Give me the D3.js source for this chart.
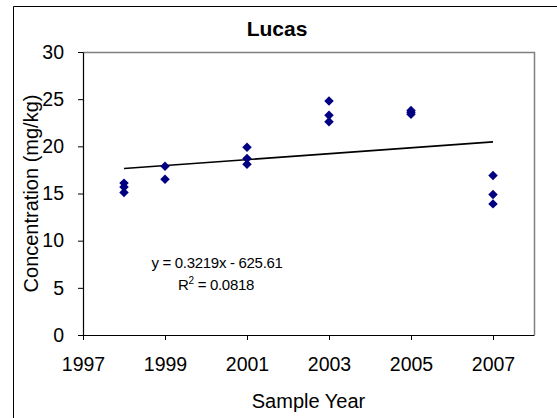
<!DOCTYPE html>
<html>
<head>
<meta charset="utf-8">
<script src="https://cdn.jsdelivr.net/npm/d3@7"></script>
<style>
html,body{margin:0;padding:0;background:#fff;overflow:hidden;}
svg{display:block;overflow:hidden;font-family:"Liberation Sans",Arial,sans-serif;}
</style>
</head>
<body>
<svg id="chart" width="557" height="418"></svg>
<script>
// ---- data ----
const years   = [1998, 1998, 1998, 1999, 1999, 2001, 2001, 2001, 2003, 2003, 2003, 2005, 2005, 2005, 2007, 2007, 2007];
const values  = [16.1, 15.7, 15.1, 17.9, 16.5, 19.9, 18.7, 18.1, 24.8, 23.3, 22.6, 23.8, 23.6, 23.4, 16.9, 14.9, 13.9];
const xTicks  = [1997, 1999, 2001, 2003, 2005, 2007];
const yTicks  = [0, 5, 10, 15, 20, 25, 30];
const trendYears  = [1998, 2007];
const trendValues = [17.65, 20.47];
const titleText = "Lucas";
const xTitle = "Sample Year";
const yTitle = "Concentration (mg/kg)";
const eqLine1 = "y = 0.3219x - 625.61";
const eqLine2 = ["R", "2", " = 0.0818"];

const svg = d3.select("#chart");
const L = 83, R = 534, T = 52, B = 335;

const x = d3.scaleLinear().domain([1997, 2008]).range([L, R]);
const y = d3.scaleLinear().domain([0, 30]).range([B, T]);

// outer chart border (only left and top edges fall inside the picture)
svg.append("path").attr("d", "M13.5,418V6.5H557")
  .attr("fill", "none").attr("stroke", "#000").attr("stroke-width", 1);

// plot area border (top/right gray)
svg.append("path")
  .attr("d", `M${L},${T+0.5}H${R+0.5}V${B}`)
  .attr("fill", "none").attr("stroke", "#808080").attr("stroke-width", 1.5);

// axes
const xAxis = d3.axisBottom(x).tickValues(xTicks).tickFormat(d3.format("d")).tickSize(5).tickSizeOuter(0).tickPadding(17);
const gx = svg.append("g").attr("transform", `translate(0,${B})`).call(xAxis);
gx.select(".domain").attr("stroke", "#000").attr("stroke-width", 1.2);
gx.selectAll(".tick line").attr("stroke", "#000");
gx.selectAll("text").attr("font-size", 19.5).attr("font-family", "Liberation Sans, Arial, sans-serif").attr("fill", "#000");

const yAxis = d3.axisLeft(y).tickValues(yTicks).tickSize(5).tickSizeOuter(0).tickPadding(14);
const gy = svg.append("g").attr("transform", `translate(${L},0)`).call(yAxis);
gy.select(".domain").attr("stroke", "#000").attr("stroke-width", 1.2);
gy.selectAll(".tick line").attr("stroke", "#000");
gy.selectAll("text").attr("font-size", 19.5).attr("font-family", "Liberation Sans, Arial, sans-serif").attr("fill", "#000");

// trend line
const line = d3.line().x(d => x(d[0])).y(d => y(d[1]));
svg.append("path")
  .datum(trendYears.map((yr, i) => [yr, trendValues[i]]))
  .attr("d", line)
  .attr("fill", "none").attr("stroke", "#000").attr("stroke-width", 1.6);

// diamond markers (square rotated 45deg)
const diamond = {
  draw(ctx, size) {
    const r = Math.sqrt(size / 2);
    ctx.moveTo(0, -r); ctx.lineTo(r, 0); ctx.lineTo(0, r); ctx.lineTo(-r, 0); ctx.closePath();
  }
};
svg.append("g").selectAll("path")
  .data(years.map((yr, i) => [yr, values[i]]))
  .join("path")
  .attr("d", d3.symbol().type(diamond).size(45))
  .attr("transform", d => `translate(${x(d[0])},${y(d[1])})`)
  .attr("fill", "#000080");

// title
svg.append("text").attr("x", 277).attr("y", 36).attr("text-anchor", "middle")
  .attr("font-size", 21).attr("font-weight", "bold").text(titleText);

// axis titles
svg.append("text").attr("x", (L + R) / 2).attr("y", 408).attr("text-anchor", "middle")
  .attr("font-size", 20).text(xTitle);
svg.append("text").attr("transform", `translate(38,${(T + B) / 2}) rotate(-90)`)
  .attr("text-anchor", "middle").attr("font-size", 20).text(yTitle);

// equation labels
svg.append("text").attr("x", 217).attr("y", 268).attr("text-anchor", "middle")
  .attr("font-size", 15).attr("letter-spacing", -0.3).text(eqLine1);
const t2 = svg.append("text").attr("x", 216).attr("y", 290).attr("text-anchor", "middle")
  .attr("font-size", 15).attr("letter-spacing", -0.3);
t2.append("tspan").text(eqLine2[0]);
t2.append("tspan").attr("font-size", 10).attr("dy", -6).text(eqLine2[1]);
t2.append("tspan").attr("dy", 6).text(eqLine2[2]);
</script>
</body>
</html>
